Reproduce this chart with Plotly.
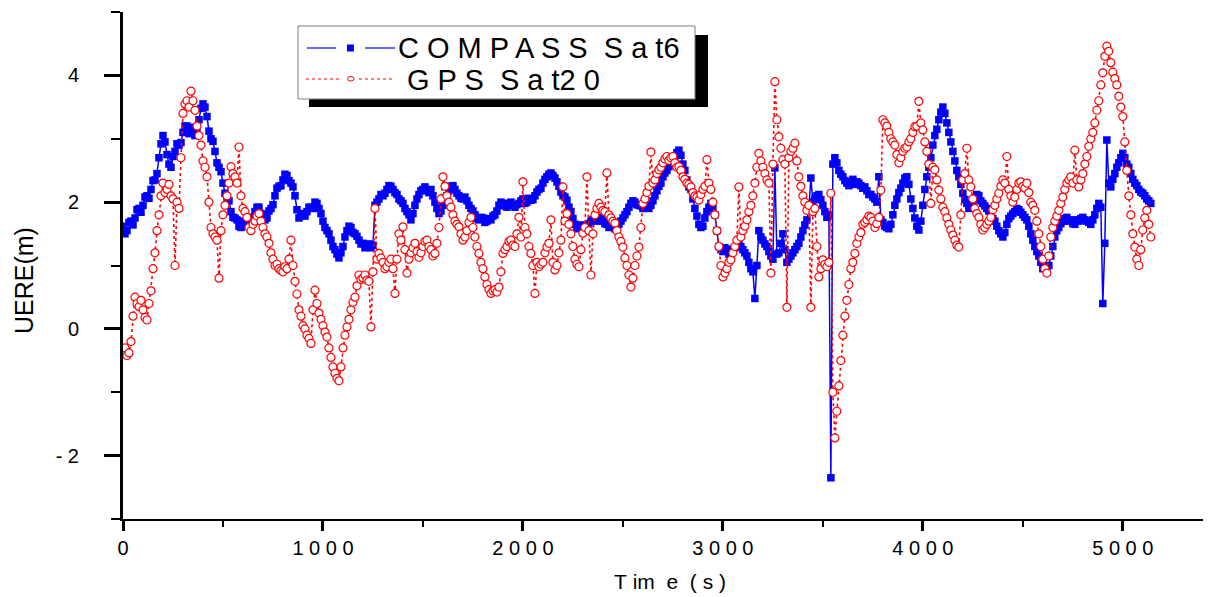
import plotly.graph_objects as go

# %% DATA (one sample every 10 s)
TIME_S = list(range(0, 5150, 10))

COMPASS_SAT6 = [
    1.62, 1.50, 1.55, 1.68, 1.70, 1.64, 1.75, 1.88, 1.90, 1.84, 1.95, 2.08, 2.10, 2.06, 2.20, 2.34, 2.35, 2.45, 2.70, 2.92,
    3.05, 2.95, 2.75, 2.60, 2.55, 2.72, 2.80, 2.92, 2.90, 2.94, 3.10, 3.20, 3.20, 3.08, 3.15, 3.18, 3.05, 3.12, 3.30, 3.48,
    3.55, 3.50, 3.35, 3.12, 3.00, 2.96, 2.80, 2.62, 2.55, 2.48, 2.30, 2.14, 2.08, 2.02, 1.85, 1.76, 1.75, 1.72, 1.62, 1.60,
    1.70, 1.62, 1.65, 1.74, 1.75, 1.76, 1.85, 1.92, 1.92, 1.82, 1.80, 1.72, 1.75, 1.86, 1.90, 1.96, 2.10, 2.22, 2.25, 2.26,
    2.35, 2.44, 2.42, 2.34, 2.30, 2.24, 2.10, 1.88, 1.75, 1.82, 1.80, 1.78, 1.85, 1.92, 1.92, 1.90, 2.00, 1.98, 1.90, 1.82,
    1.70, 1.60, 1.55, 1.50, 1.40, 1.30, 1.25, 1.18, 1.12, 1.20, 1.30, 1.45, 1.55, 1.62, 1.60, 1.52, 1.50, 1.46, 1.40, 1.34,
    1.35, 1.28, 1.30, 1.34, 1.28, 1.32, 1.95, 2.00, 2.05, 2.12, 2.10, 2.14, 2.20, 2.26, 2.25, 2.20, 2.15, 2.12, 2.05, 2.02,
    1.98, 1.90, 1.85, 1.80, 1.72, 1.82, 1.95, 2.05, 2.12, 2.18, 2.20, 2.24, 2.18, 2.15, 2.20, 2.10, 2.00, 1.90, 1.82, 1.86,
    1.95, 2.04, 2.10, 2.18, 2.25, 2.26, 2.20, 2.14, 2.10, 2.06, 2.05, 2.08, 2.02, 1.95, 1.90, 1.86, 1.80, 1.74, 1.72, 1.76,
    1.75, 1.68, 1.70, 1.74, 1.72, 1.78, 1.80, 1.86, 1.95, 2.00, 1.98, 1.94, 1.92, 1.98, 2.00, 1.95, 1.92, 1.96, 1.98, 2.02,
    2.05, 1.98, 2.00, 2.06, 2.03, 2.04, 2.10, 2.16, 2.20, 2.22, 2.30, 2.36, 2.40, 2.44, 2.46, 2.42, 2.38, 2.32, 2.25, 2.16,
    2.10, 2.08, 2.03, 1.92, 1.85, 1.74, 1.65, 1.58, 1.60, 1.64, 1.62, 1.58, 1.60, 1.66, 1.70, 1.72, 1.75, 1.70, 1.72, 1.76,
    1.70, 1.66, 1.65, 1.60, 1.62, 1.64, 1.58, 1.60, 1.65, 1.70, 1.75, 1.80, 1.85, 1.92, 1.98, 2.02, 2.00, 1.96, 1.95, 1.94,
    1.90, 1.94, 1.92, 1.90, 1.95, 2.02, 2.10, 2.18, 2.25, 2.30, 2.40, 2.46, 2.50, 2.56, 2.60, 2.66, 2.72, 2.78, 2.82, 2.74,
    2.60, 2.50, 2.35, 2.24, 2.20, 2.05, 1.90, 1.78, 1.65, 1.60, 1.62, 1.75, 1.85, 1.92, 1.98, 1.90, 1.80, 1.55, 1.30, 1.25,
    1.22, 1.28, 1.25, 1.18, 1.20, 1.26, 1.28, 1.32, 1.35, 1.30, 1.25, 1.20, 1.15, 1.05, 0.95, 0.90, 0.48, 1.00, 1.55, 1.45,
    1.40, 1.34, 1.30, 1.22, 1.15, 1.10, 2.54, 1.18, 1.20, 1.35, 1.50, 1.25, 1.05, 1.10, 1.15, 1.20, 1.25, 1.30, 1.35, 1.45,
    1.55, 1.64, 1.72, 1.90, 2.38, 2.00, 2.05, 2.10, 2.12, 2.04, 1.95, 1.85, 1.76, 1.80, -2.35, 2.60, 2.70, 2.62, 2.50, 2.44,
    2.40, 2.34, 2.30, 2.26, 2.32, 2.36, 2.28, 2.32, 2.30, 2.26, 2.22, 2.24, 2.18, 2.12, 2.12, 2.08, 2.05, 2.00, 2.40, 1.72,
    1.68, 1.62, 1.60, 1.58, 1.65, 1.80, 1.95, 2.05, 2.15, 2.22, 2.30, 2.38, 2.40, 2.28, 2.05, 1.90, 1.75, 1.62, 1.56, 1.70,
    1.95, 2.20, 2.40, 2.55, 2.70, 2.90, 3.05, 3.15, 3.30, 3.42, 3.50, 3.40, 3.25, 3.10, 2.95, 2.80, 2.65, 2.50, 2.40, 2.28,
    2.14, 2.04, 1.98, 1.90, 1.92, 1.98, 2.05, 2.12, 2.10, 2.02, 1.98, 1.94, 1.90, 1.86, 1.80, 1.74, 1.70, 1.62, 1.55, 1.50,
    1.45, 1.52, 1.65, 1.74, 1.78, 1.82, 1.85, 1.90, 1.88, 1.84, 1.80, 1.76, 1.72, 1.62, 1.50, 1.40, 1.30, 1.22, 1.15, 1.05,
    0.95, 0.98, 0.90, 1.00, 1.15, 1.30, 1.45, 1.55, 1.60, 1.66, 1.70, 1.74, 1.76, 1.70, 1.72, 1.66, 1.65, 1.72, 1.70, 1.74,
    1.76, 1.72, 1.70, 1.68, 1.65, 1.72, 1.80, 1.90, 1.98, 1.92, 0.40, 1.35, 2.98, 2.30, 2.24, 2.36, 2.45, 2.55, 2.62, 2.70,
    2.77, 2.70, 2.60, 2.55, 2.45, 2.36, 2.30, 2.26, 2.20, 2.16, 2.14, 2.10, 2.05, 2.02, 1.98,
]

GPS_SAT20 = [
    -0.35, -0.30, -0.42, -0.38, -0.20, 0.20, 0.50, 0.40, 0.35, 0.45, 0.30, 0.18, 0.14, 0.40, 0.60, 0.95, 1.20, 1.55, 1.80, 2.10,
    2.30, 2.15, 2.20, 2.28, 2.10, 2.05, 1.00, 2.00, 1.90, 2.70, 3.40, 3.55, 3.60, 3.50, 3.75, 3.60, 3.45, 3.20, 3.05, 2.90,
    2.65, 2.55, 2.40, 2.00, 1.60, 1.50, 1.45, 1.40, 0.80, 1.55, 1.80, 1.95, 2.10, 2.30, 2.56, 2.45, 2.40, 2.30, 2.87, 2.10,
    1.90, 1.85, 1.76, 1.60, 1.55, 1.65, 1.70, 1.78, 1.82, 1.70, 1.60, 1.50, 1.45, 1.35, 1.20, 1.10, 1.00, 1.02, 0.95, 0.92,
    0.90, 0.98, 0.95, 1.10, 1.40, 1.00, 0.75, 0.55, 0.30, 0.20, 0.05, 0.00, -0.10, -0.15, -0.23, 0.30, 0.61, 0.40, 0.25, 0.15,
    0.05, -0.05, -0.13, -0.30, -0.45, -0.60, -0.70, -0.78, -0.82, -0.60, -0.30, -0.10, 0.03, 0.15, 0.30, 0.42, 0.50, 0.68, 0.85, 0.78,
    0.80, 0.85, 0.77, 0.75, 0.03, 0.90, 1.90, 1.10, 1.19, 1.12, 1.05, 0.95, 0.98, 1.05, 1.10, 0.95, 0.56, 1.10, 1.50, 1.40,
    1.61, 1.25, 0.88, 1.10, 1.20, 1.28, 1.35, 1.22, 1.13, 1.20, 1.30, 1.38, 1.40, 1.30, 1.25, 1.15, 1.19, 1.35, 1.60, 2.05,
    2.40, 2.25, 2.10, 2.00, 1.92, 1.80, 1.70, 1.65, 1.61, 1.50, 1.40, 1.45, 1.55, 1.68, 1.76, 1.60, 1.45, 1.30, 1.19, 1.05,
    0.95, 0.82, 0.70, 0.62, 0.56, 0.60, 0.62, 0.58, 0.66, 0.90, 1.19, 1.25, 1.30, 1.38, 1.40, 1.32, 1.30, 1.50, 1.76, 1.45,
    2.32, 1.60, 1.50, 1.30, 1.19, 1.00, 0.56, 1.05, 0.98, 1.02, 1.05, 1.20, 1.29, 1.35, 1.72, 1.05, 0.93, 1.00, 1.20, 1.40,
    2.24, 1.70, 1.82, 1.65, 1.50, 1.30, 1.10, 1.02, 0.98, 1.25, 1.51, 1.60, 2.40, 1.55, 0.85, 1.50, 1.80, 1.90, 1.98, 1.92,
    1.87, 1.85, 2.46, 1.80, 1.75, 1.70, 1.67, 1.55, 1.45, 1.38, 1.29, 1.12, 1.00, 0.85, 0.66, 0.80, 1.00, 1.15, 1.29, 1.60,
    1.98, 2.05, 2.15, 2.25, 2.79, 2.30, 2.35, 2.45, 2.51, 2.55, 2.62, 2.68, 2.72, 2.66, 2.70, 2.72, 2.62, 2.55, 2.56, 2.50,
    2.40, 2.36, 2.30, 2.28, 2.24, 2.15, 2.10, 2.08, 2.03, 2.12, 2.20, 2.25, 2.67, 2.30, 2.20, 2.00, 1.80, 1.55, 1.30, 1.00,
    0.82, 0.88, 0.95, 1.05, 1.09, 1.20, 1.30, 1.40, 2.24, 1.45, 1.55, 1.62, 1.72, 1.85, 1.95, 2.10, 2.30, 2.55, 2.77, 2.65,
    2.55, 2.45, 2.35, 2.30, 0.88, 2.60, 3.90, 3.30, 3.03, 2.85, 2.67, 2.60, 0.34, 2.70, 2.80, 2.85, 2.93, 2.65, 2.40, 2.25,
    2.10, 2.00, 1.87, 1.95, 0.34, 1.85, 1.90, 1.30, 0.82, 0.95, 1.09, 1.02, 0.98, 1.05, 2.14, -1.00, -1.72, -1.30, -0.90, -0.50,
    -0.10, 0.20, 0.45, 0.70, 0.95, 1.05, 1.19, 1.35, 1.45, 1.52, 1.65, 1.68, 1.72, 1.78, 1.76, 1.70, 1.60, 1.66, 1.76, 2.19,
    3.30, 3.25, 3.20, 3.10, 3.00, 2.95, 2.90, 2.75, 2.62, 2.70, 2.80, 2.85, 2.87, 2.95, 3.00, 3.10, 3.19, 3.20, 3.59, 3.25,
    3.14, 2.95, 2.80, 2.60, 1.98, 2.55, 2.51, 2.35, 2.19, 2.05, 1.92, 1.85, 1.75, 1.65, 1.56, 1.48, 1.40, 1.32, 1.29, 1.80,
    2.35, 2.45, 2.85, 2.35, 2.24, 2.05, 1.90, 1.82, 1.76, 1.65, 1.56, 1.60, 1.65, 1.70, 1.76, 1.88, 1.95, 2.05, 2.14, 2.25,
    2.35, 2.30, 2.72, 2.20, 2.10, 2.00, 2.08, 2.20, 2.30, 2.32, 2.25, 2.22, 2.30, 2.15, 2.00, 1.95, 1.87, 1.70, 1.50, 1.30,
    1.10, 0.95, 0.88, 1.15, 1.45, 1.60, 1.70, 1.78, 1.87, 1.98, 2.08, 2.20, 2.30, 2.35, 2.40, 2.30, 2.82, 2.35, 2.24, 2.35,
    2.45, 2.60, 2.72, 2.88, 3.00, 3.10, 3.25, 3.45, 3.60, 3.85, 4.04, 4.30, 4.46, 4.38, 4.20, 4.05, 3.95, 3.85, 3.67, 3.50,
    3.35, 2.95, 2.50, 2.10, 1.80, 1.50, 1.29, 1.10, 1.00, 1.25, 1.56, 1.75, 1.87, 1.65, 1.45,
]

X_TICKS = [0, 1000, 2000, 3000, 4000, 5000]
X_TICK_TEXT = ["0", "1 0 0 0", "2 0 0 0", "3 0 0 0", "4 0 0 0", "5 0 0 0"]
Y_TICKS = [-2, 0, 2, 4]
Y_TICK_TEXT = ["- 2", "0", "2", "4"]
SERIES_NAMES = ["C O M P A S S  S a t6", "G P S  S a t2 0"]
X_TITLE = "T\u00a0im\u00a0\u00a0e\u00a0\u00a0(\u00a0s\u00a0)"
Y_TITLE = "UERE(m)"

FONT = "Liberation Sans, Arial, sans-serif"
BLUE = "#0000ff"
RED = "#ff0000"

# %% FIGURE
fig = go.Figure()

fig.add_trace(
    go.Scatter(
        name=SERIES_NAMES[0],
        x=TIME_S,
        y=COMPASS_SAT6,
        mode="lines+markers",
        line=dict(color=BLUE, width=1.5),
        marker=dict(symbol="square", size=7.5, color=BLUE),
    )
)

fig.add_trace(
    go.Scatter(
        name=SERIES_NAMES[1],
        x=TIME_S,
        y=GPS_SAT20,
        mode="lines+markers",
        line=dict(color=RED, width=1.6, dash="3px,3px"),
        marker=dict(symbol="circle", size=8, color="white", line=dict(color=RED, width=1.2)),
    )
)

# page has an 8px body margin, so the figure is a bit smaller than the window
OFF = 8
W_PLOT, H_PLOT, L, T = 1088, 507, 123, 12


# helpers: screenshot pixel -> paper coords
def px_x(p):
    return (p - L) / W_PLOT


def px_y(p):
    return (T + H_PLOT - p) / H_PLOT


def paper_line(x0, x1, y, color, dash=None, width=1.2):
    fig.add_shape(type="line", xref="paper", yref="paper", layer="above",
                  x0=px_x(x0), x1=px_x(x1), y0=px_y(y), y1=px_y(y),
                  line=dict(color=color, width=width, dash=dash))


# legend frame with its drop shadow
fig.add_shape(type="rect", xref="paper", yref="paper", layer="above",
              x0=px_x(309), x1=px_x(708), y0=px_y(107), y1=px_y(35),
              fillcolor="black", line=dict(width=0))
fig.add_shape(type="rect", xref="paper", yref="paper", layer="above",
              x0=px_x(298), x1=px_x(695), y0=px_y(99), y1=px_y(26),
              fillcolor="white", line=dict(color="#808080", width=1))

# legend samples
paper_line(307, 336, 48, BLUE)
paper_line(365, 395, 48, BLUE)
fig.add_shape(type="rect", xref="paper", yref="paper", layer="above",
              x0=px_x(347), x1=px_x(354), y0=px_y(51.5), y1=px_y(44.5),
              fillcolor=BLUE, line=dict(width=0))
paper_line(306, 339, 79, RED, dash="3px,3px")
paper_line(359, 395, 79, RED, dash="3px,3px")
fig.add_shape(type="circle", xref="paper", yref="paper", layer="above",
              x0=px_x(347.5), x1=px_x(354), y0=px_y(81), y1=px_y(76.5),
              fillcolor="white", line=dict(color=RED, width=1))

fig.add_annotation(text=SERIES_NAMES[0], xref="paper", yref="paper", x=px_x(396), y=px_y(48),
                   xanchor="left", yanchor="middle", showarrow=False,
                   font=dict(size=29, family=FONT, color="black"))
fig.add_annotation(text=SERIES_NAMES[1], xref="paper", yref="paper", x=px_x(405), y=px_y(80),
                   xanchor="left", yanchor="middle", showarrow=False,
                   font=dict(size=29, family=FONT, color="black"))

# axis titles
fig.add_annotation(text=Y_TITLE, xref="paper", yref="paper", x=px_x(24), y=px_y(281),
                   xanchor="center", yanchor="middle", textangle=-90, showarrow=False,
                   font=dict(size=25, family=FONT, color="black"))
fig.add_annotation(text=X_TITLE, xref="paper", yref="paper", x=px_x(670), y=px_y(581),
                   xanchor="center", yanchor="middle", showarrow=False,
                   font=dict(size=21, family=FONT, color="black"))

fig.update_layout(
    width=1211 - OFF,
    height=597 - OFF,
    margin=dict(l=L - OFF, r=0, t=T - OFF, b=597 - T - H_PLOT, pad=0),
    paper_bgcolor="white",
    plot_bgcolor="white",
    font=dict(family=FONT, color="black"),
    showlegend=False,
    xaxis=dict(
        range=[0, 5441], showgrid=False, zeroline=False,
        showline=True, linecolor="black", linewidth=2,
        tickmode="array", tickvals=X_TICKS, ticktext=X_TICK_TEXT,
        ticks="outside", ticklen=10, tickwidth=3, tickcolor="black",
        tickfont=dict(size=20, family=FONT, color="black"),
        minor=dict(dtick=500, tick0=0, ticks="outside", ticklen=6, tickwidth=2, tickcolor="black"),
    ),
    yaxis=dict(
        range=[-3, 5], showgrid=False, zeroline=False,
        showline=True, linecolor="black", linewidth=3,
        tickmode="array", tickvals=Y_TICKS, ticktext=Y_TICK_TEXT,
        ticks="outside", ticklen=16, tickwidth=2.5, tickcolor="black",
        tickfont=dict(size=20, family=FONT, color="black"),
        ticklabelstandoff=21,
        minor=dict(dtick=1, tick0=-3, ticks="outside", ticklen=9, tickwidth=2, tickcolor="black"),
    ),
)

fig.write_html("out.html")
